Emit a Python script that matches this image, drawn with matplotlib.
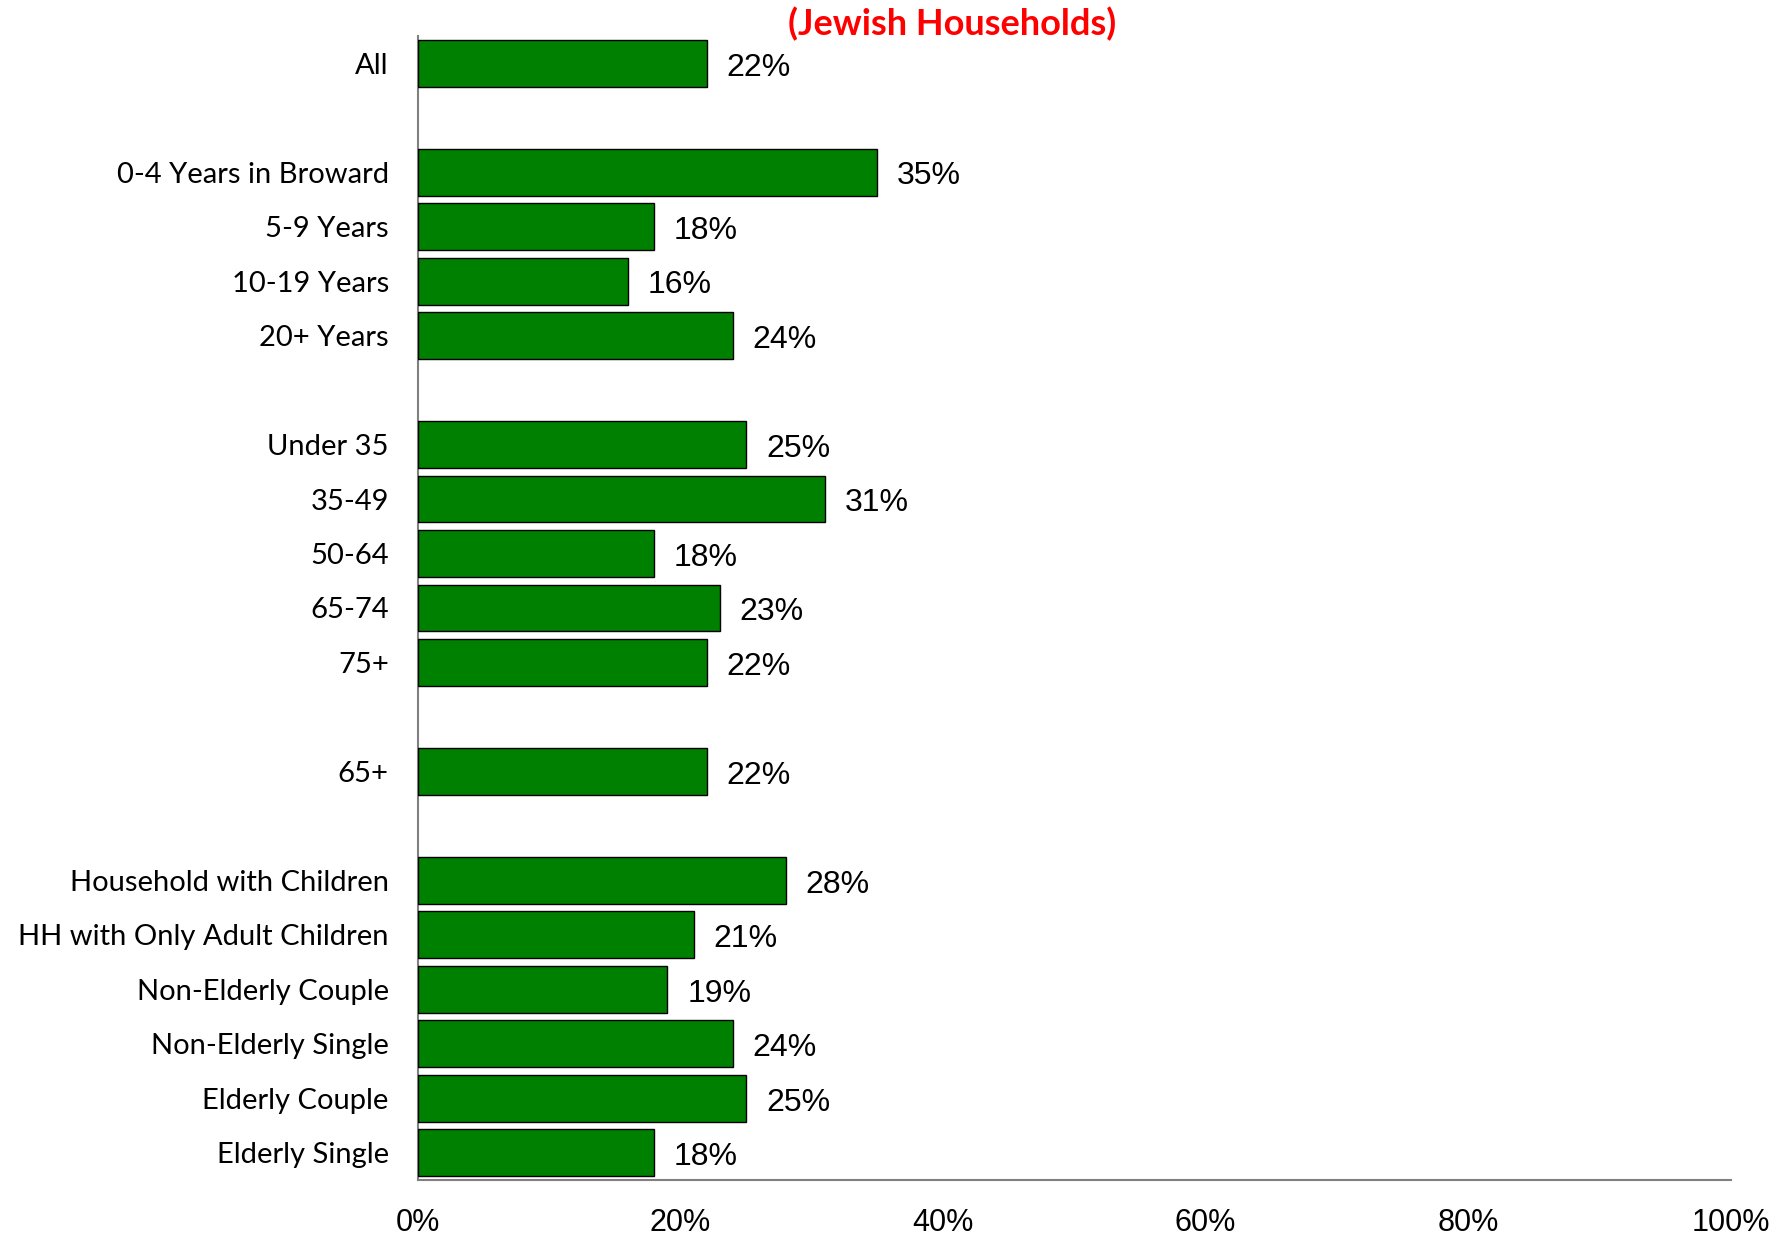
import matplotlib
matplotlib.use("Agg")
import matplotlib.pyplot as plt
from matplotlib.ticker import FuncFormatter

categories = ["All", None,
              "0-4 Years in Broward", "5-9 Years", "10-19 Years", "20+ Years", None,
              "Under 35", "35-49", "50-64", "65-74", "75+", None,
              "65+", None,
              "Household with Children", "HH with Only Adult Children",
              "Non-Elderly Couple", "Non-Elderly Single", "Elderly Couple", "Elderly Single"]
values = [22, None,
          35, 18, 16, 24, None,
          25, 31, 18, 23, 22, None,
          22, None,
          28, 21, 19, 24, 25, 18]
xticks = [0, 20, 40, 60, 80, 100]
title = "(Jewish Households)"

fig = plt.figure(figsize=(17.88, 12.35), dpi=100)
ax = fig.add_axes([0.2338, 0.0445, 0.968 - 0.2338, 0.9709 - 0.0445])

pos = [i for i, v in enumerate(values) if v is not None]
vals = [values[i] for i in pos]
labs = [categories[i] for i in pos]

ax.barh(pos, vals, height=0.86, color="#008000", edgecolor="black", linewidth=1.0, zorder=3)
for p, v in zip(pos, vals):
    ax.text(v + 1.5, p + 0.08, f"{v}%", va="center", ha="left", fontsize=23,
            family="Liberation Sans", color="black")

ax.set_ylim(len(values) - 0.5, -0.5)
ax.set_xlim(0, 100)
ax.set_yticks(pos)
ax.set_yticklabels(labs, fontsize=21, family="Lato")
ax.set_xticks(xticks)
ax.xaxis.set_major_formatter(FuncFormatter(lambda x, _: f"{x:.0f}%"))
for t in ax.get_xticklabels():
    t.set_fontsize(22)
    t.set_family("Liberation Sans")
ax.tick_params(axis="x", length=0, pad=20)
ax.tick_params(axis="y", length=0, pad=21)

for s in ["top", "right"]:
    ax.spines[s].set_visible(False)
for s in ["left", "bottom"]:
    ax.spines[s].set_color("#808080")
    ax.spines[s].set_linewidth(1.5)

fig.text(952 / 1788, 1 - 24 / 1235, title, ha="center", va="center", color="#FF0000",
         fontsize=26, fontweight="bold", family="Lato")

fig.savefig("out.png", dpi=100)
